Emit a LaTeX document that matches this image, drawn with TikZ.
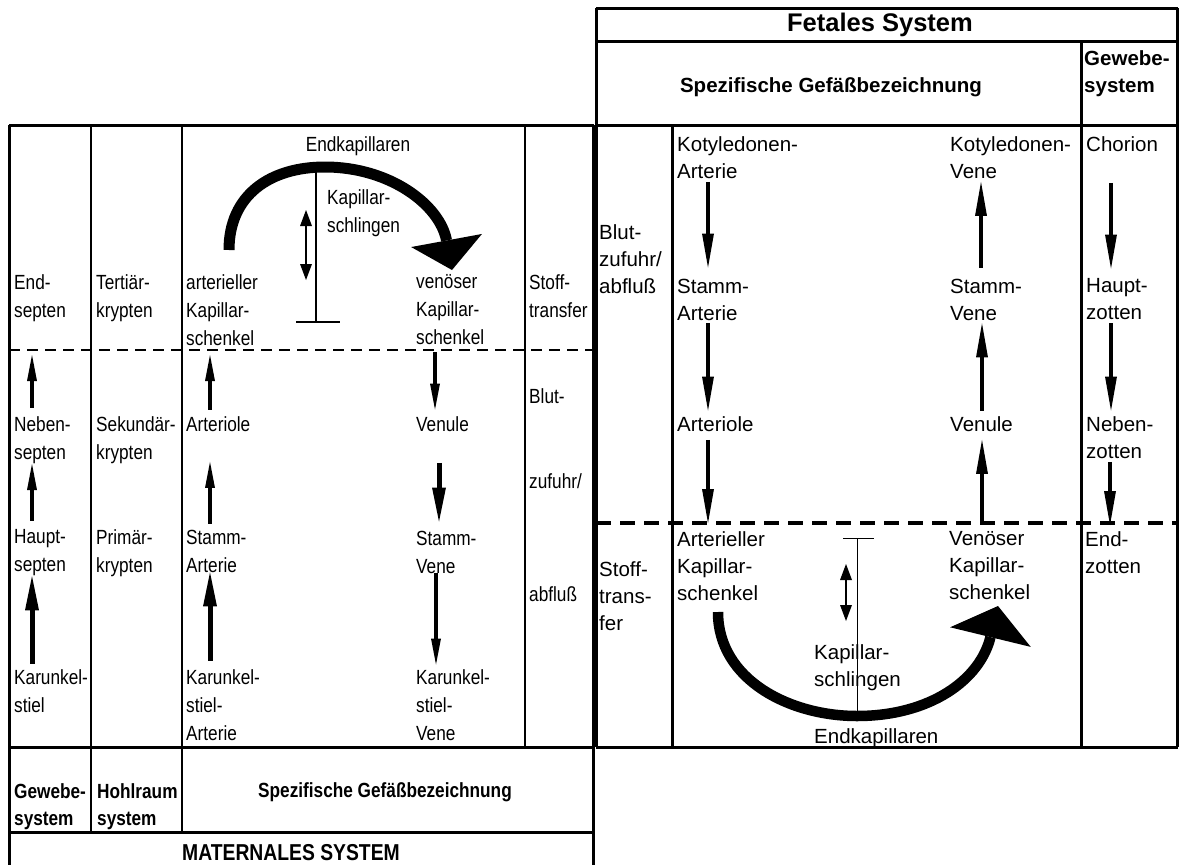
\documentclass[tikz,border=0pt]{standalone}
\usepackage{fontspec}
\setmainfont{Liberation Sans}
\newfontfamily\matfont[FakeStretch=0.84]{Liberation Sans}
\usetikzlibrary{arrows.meta}
\tikzset{
      matbox/.style={anchor=north west, inner sep=0pt, align=left, font=\matfont\fontsize{20.5}{28}\selectfont},
      fetbox/.style={anchor=north west, inner sep=0pt, align=left, font=\fontsize{20.5}{27}\selectfont},
      mathead/.style={inner sep=0pt, align=left, font=\matfont\bfseries\fontsize{20.5}{27}\selectfont},
      fethead/.style={inner sep=0pt, align=left, font=\bfseries\fontsize{20.5}{27}\selectfont},
      gridline/.style={line width=2pt},
      gridthick/.style={line width=3pt},
      thinarrow/.style={line width=3.5pt, -{Triangle[length=26pt,width=10pt,line width=0pt]}},
      thickarrow/.style={line width=5pt, -{Triangle[length=34pt,width=14pt,line width=0pt]}},
      fetarrow/.style={line width=4.5pt, -{Triangle[length=34pt,width=12pt,line width=0pt]}},
      matloop/.style={line width=11pt, -{Triangle[length=30pt,width=72pt,line width=0pt]}},
      fetloop/.style={line width=10.5pt, -{Triangle[length=32pt,width=83pt,line width=0pt]}},
      pairarrow/.style={line width=1.5pt, {Triangle[length=16pt,width=12pt,line width=0pt]}-{Triangle[length=16pt,width=12pt,line width=0pt]}},
      scaleline/.style={line width=1.5pt}
    }
\begin{document}
\begin{tikzpicture}[x=1pt,y=-1pt]
    \useasboundingbox (0,0) rectangle (1179,865);
    % maternal table
    \draw[gridthick] (9,125) -- (594,125);
    \draw[gridthick] (9,125) -- (9,865);
    \draw[gridthick] (593.5,125) -- (593.5,865);
    \draw[gridthick] (9,747) -- (594,747);
    \draw[gridthick] (9,832) -- (594,832);
    \draw[gridline] (91,125) -- (91,832);
    \draw[gridline] (182,125) -- (182,832);
    \draw[gridline] (525,125) -- (525,747);
    \draw[line width=2pt, dash pattern=on 11pt off 7pt] (9,350) -- (594,350);
    % fetal table
    \draw[gridthick] (596,8) -- (1178,8);
    \draw[gridthick] (596,41) -- (1178,41);
    \draw[gridthick] (596,125) -- (1178,125);
    \draw[gridthick] (596,747) -- (1178,747);
    \draw[gridthick] (596,8) -- (596,747);
    \draw[gridthick] (1177.5,8) -- (1177.5,747);
    \draw[gridthick] (1081,41) -- (1081,747);
    \draw[gridthick] (672,125) -- (672,747);
    \draw[line width=4.5pt, dash pattern=on 15pt off 9pt] (596,523) -- (1178,523);

    \node[matbox] (mEndSep) at (14,274.5) {End-\\septen};
    \node[matbox] (mNebSep) at (14,416.5) {Neben-\\septen};
    \node[matbox] (mHptSep) at (14,529.5) {Haupt-\\septen};
    \node[matbox] (mKarStiel) at (14,669.5) {Karunkel-\\stiel};
    \node[matbox] (mTert) at (96,274.5) {Tertiär-\\krypten};
    \node[matbox] (mSek) at (96,416.5) {Sekundär-\\krypten};
    \node[matbox] (mPrim) at (96,529.5) {Primär-\\krypten};
    \node[matbox] (mArtKap) at (186,274.5) {arterieller\\Kapillar-\\schenkel};
    \node[matbox] (mArteriole) at (186,416.5) {Arteriole};
    \node[matbox] (mStArt) at (186,529.5) {Stamm-\\Arterie};
    \node[matbox] (mKarArt) at (186,669.5) {Karunkel-\\stiel-\\Arterie};
    \node[matbox] (mVenKap) at (416,274.5) {venöser\\Kapillar-\\schenkel};
    \node[matbox] (mVenule) at (416,416.5) {Venule};
    \node[matbox] (mStVene) at (416,530.5) {Stamm-\\Vene};
    \node[matbox] (mKarVene) at (416,669.5) {Karunkel-\\stiel-\\Vene};
    \node[matbox] (mStoff) at (529,274.5) {Stoff-\\transfer};
    \node[matbox] (mBlut) at (529,388.5) {Blut-\\[57pt]zufuhr/\\[85pt]abfluß};
    \node[matbox, anchor=center] (mEndKap) at (358,146) {Endkapillaren};
    \node[matbox] (mSchl) at (327,189.5) {Kapillar-\\schlingen};
    \node[mathead, anchor=north west] (mGewebe) at (14,783.5) {Gewebe-\\system};
    \node[mathead, anchor=north west] (mHohl) at (97,783.5) {Hohlraum\\system};
    \node[mathead] (mSpez) at (385,792) {Spezifische Gefäßbezeichnung};
    \node[mathead, font=\matfont\bfseries\fontsize{23}{27}\selectfont] (mSys) at (291,853) {MATERNALES SYSTEM};

    \node[fethead, font=\bfseries\fontsize{25.5}{30}\selectfont] (fSys) at (880,25) {Fetales System};
    \node[fethead] (fSpez) at (831,87) {Spezifische Gefäßbezeichnung};
    \node[fethead, anchor=north west] (fGewebe) at (1084,50.5) {Gewebe-\\system};
    \node[fetbox] (fBlut) at (599,224.5) {Blut-\\zufuhr/\\abfluß};
    \node[fetbox] (fKotArt) at (677,136.5) {Kotyledonen-\\Arterie};
    \node[fetbox] (fStArt) at (677,278.5) {Stamm-\\Arterie};
    \node[fetbox] (fArteriole) at (677,416.5) {Arteriole};
    \node[fetbox] (fKotVene) at (950,136.5) {Kotyledonen-\\Vene};
    \node[fetbox] (fStVene) at (950,278.5) {Stamm-\\Vene};
    \node[fetbox] (fVenule) at (950,416.5) {Venule};
    \node[fetbox] (fChorion) at (1086,136.5) {Chorion};
    \node[fetbox] (fHptZ) at (1086,278.5) {Haupt-\\zotten};
    \node[fetbox] (fNebZ) at (1086,416.5) {Neben-\\zotten};
    \node[fetbox] (fStoff) at (599,561.5) {Stoff-\\trans-\\fer};
    \node[fetbox] (fArtKap) at (677,531.5) {Arterieller\\Kapillar-\\schenkel};
    \node[fetbox] (fVenKap) at (949,531.5) {Venöser\\Kapillar-\\schenkel};
    \node[fetbox] (fEndZ) at (1085,531.5) {End-\\zotten};
    \node[fetbox] (fSchl) at (814,644.5) {Kapillar-\\schlingen};
    \node[fetbox] (fEndKap) at (814,728.5) {Endkapillaren};

    % maternal flow
    \coordinate (mDashNeb) at (32,355);
    \coordinate (mDashArt) at (210,355);
    \coordinate (mDashVen) at (435,352);
    \draw[thinarrow, shorten <=9pt] ([xshift=18pt]mNebSep.north west) -- (mDashNeb);
    \draw[thinarrow, shorten <=9pt] ([xshift=18pt]mHptSep.north west) -- ([xshift=18pt]mNebSep.south west);
    \draw[thickarrow, shorten <=6pt] ([xshift=18pt]mKarStiel.north west) -- ([xshift=18pt]mHptSep.south west);
    \draw[thinarrow, shorten <=7pt] ([xshift=24pt]mArteriole.north west) -- (mDashArt);
    \draw[thinarrow, shorten <=6pt, shorten >=30pt] ([xshift=24pt]mStArt.north west) -- ([xshift=24pt]mArteriole.south west);
    \draw[thickarrow, shorten <=9pt] ([xshift=24pt]mKarArt.north west) -- ([xshift=24pt]mStArt.south west);
    \draw[thinarrow, shorten >=7pt] (mDashVen) -- ([xshift=19pt]mVenule.north west);
    \draw[thickarrow, shorten <=31pt, shorten >=9pt] ([xshift=23pt]mVenule.south west) -- ([xshift=23pt]mStVene.north west);
    \draw[thinarrow, shorten >=5pt] ([xshift=20pt]mStVene.south west) -- ([xshift=20pt]mKarVene.north west);
    \coordinate (mLoopA) at (229,250);
    \coordinate (mLoopTop) at (325,167);
    \coordinate (mLoopB) at (452,270);
    \draw[matloop] (mLoopA) .. controls (229,195) and (270,167) .. (mLoopTop) .. controls (390,167) and (440,205) .. (mLoopB);
    \coordinate (mScaleTop) at (316,172);
    \coordinate (mScaleBot) at (316,322);
    \draw[scaleline] (mScaleTop) -- (mScaleBot) +(-20,0) -- +(24,0);
    \coordinate (mPairA) at (306,210);
    \coordinate (mPairB) at (306,280);
    \draw[pairarrow] (mPairA) -- (mPairB);

    % fetal flow
    \coordinate (fDashArt) at (708,523);
    \coordinate (fDashVen) at (982,523);
    \coordinate (fDashNeb) at (1110,525);
    \draw[fetarrow, shorten <=3pt, shorten >=11pt] ([xshift=31pt]fKotArt.south west) -- ([xshift=31pt]fStArt.north west);
    \draw[fetarrow, shorten <=3pt, shorten >=6pt] ([xshift=31pt]fStArt.south west) -- ([xshift=31pt]fArteriole.north west);
    \draw[fetarrow, shorten <=8pt] ([xshift=31pt]fArteriole.south west) -- (fDashArt);
    \draw[fetarrow, shorten <=11pt, shorten >=3pt] ([xshift=31pt]fStVene.north west) -- ([xshift=31pt]fKotVene.south west);
    \draw[fetarrow, shorten <=6pt, shorten >=3pt] ([xshift=32pt]fVenule.north west) -- ([xshift=32pt]fStVene.south west);
    \draw[fetarrow, shorten >=8pt] (fDashVen) -- ([xshift=32pt]fVenule.south west);
    \draw[fetarrow, shorten <=31pt, shorten >=10pt] ([xshift=25pt]fChorion.south west) -- ([xshift=25pt]fHptZ.north west);
    \draw[fetarrow, shorten <=3pt, shorten >=6pt] ([xshift=25pt]fHptZ.south west) -- ([xshift=25pt]fNebZ.north west);
    \draw[fetarrow, shorten <=3pt] ([xshift=24pt]fNebZ.south west) -- (fDashNeb);
    \coordinate (fLoopA) at (718,612);
    \coordinate (fLoopBot) at (857,716);
    \coordinate (fLoopB) at (998,606);
    \draw[fetloop] (fLoopA) .. controls (718,680) and (790,716) .. (fLoopBot) .. controls (930,716) and (980,680) .. (fLoopB);
    \coordinate (fScaleTop) at (857.5,538.5);
    \coordinate (fScaleBot) at (857.5,711);
    \draw[scaleline] (fScaleBot) -- (fScaleTop) +(-14.5,0) -- +(16.5,0);
    \coordinate (fPairA) at (846,564);
    \coordinate (fPairB) at (846,621);
    \draw[pairarrow] (fPairA) -- (fPairB);
    \end{tikzpicture}
\end{document}
